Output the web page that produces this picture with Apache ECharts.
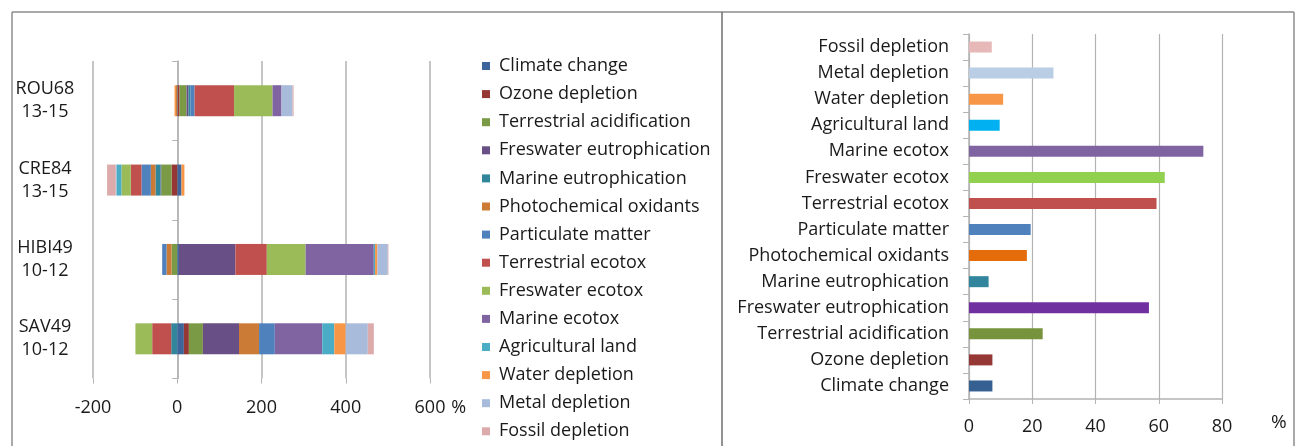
<!DOCTYPE html>
<html lang="en">
<head>
    <meta charset="UTF-8">
    <title>Impact categories</title>
    <script src="https://cdn.jsdelivr.net/npm/echarts@6/dist/echarts.min.js"></script>
</head>
<body style="margin:0;">
<div id="chart" style="width:1300px;height:446px;"></div>
<style>
    * {
        padding: 0;
        margin: 0;
    }
</style>
<script>
    // sites, top to bottom
    var sites = ['ROU68\n13-15', 'CRE84\n13-15', 'HIBI49\n10-12', 'SAV49\n10-12'];
    var impacts = ['Climate change', 'Ozone depletion', 'Terrestrial acidification', 'Freswater eutrophication',
        'Marine eutrophication', 'Photochemical oxidants', 'Particulate matter', 'Terrestrial ecotox',
        'Freswater ecotox', 'Marine ecotox', 'Agricultural land', 'Water depletion', 'Metal depletion', 'Fossil depletion'];

    // % per site [ROU68, CRE84, HIBI49, SAV49]
    var climateChange = [1.4, 10, 4, 15.7];
    var ozoneDepletion = [4, -13.5, 0, 11.9];
    var terrAcid = [16.7, -24.6, -13.5, 33.3];
    var fwEutro = [4.8, -1.6, 134, 85.7];
    var marineEutro = [4.8, -11.9, 0, -14.3];
    var photochem = [-3, -11.1, -12, 47.6];
    var particulate = [9.5, -22.2, -10.3, 37.4];
    var terrEcotox = [93.6, -25.4, 74.6, -45.2];
    var fwEcotox = [91.4, -22.2, 92, -39.8];
    var marineEcotox = [21.4, 0, 162, 112.6];
    var agriLand = [0, -11.9, 3, 28.6];
    var waterDepl = [-3.4, 7, 5.6, 27.1];
    var metalDepl = [26.2, -1.6, 24.6, 52.4];
    var fossilDepl = [2.4, -20.6, 1.6, 14.3];
    var siteValues = [climateChange, ozoneDepletion, terrAcid, fwEutro, marineEutro, photochem, particulate,
        terrEcotox, fwEcotox, marineEcotox, agriLand, waterDepl, metalDepl, fossilDepl];

    // right chart, % per impact (same order as impacts, drawn bottom to top)
    var impactShare = [7.4, 7.4, 23.3, 56.9, 6.2, 18.3, 19.5, 59.3, 61.9, 74.1, 9.7, 10.8, 26.7, 7.2];

    var leftColors = ['#3e659b', '#953735', '#7a9a45', '#684f86', '#31869b', '#cc7b37', '#4f81bd',
        '#c0504d', '#9bbb59', '#8064a2', '#4bacc6', '#f79646', '#a9bbdb', '#ddaaab'];
    var rightColors = ['#376092', '#953735', '#77933c', '#7030a0', '#31859c', '#e46c0a', '#4f81bd',
        '#c0504d', '#92d050', '#8064a2', '#00b0f0', '#f79646', '#b9cde5', '#e6b9b8'];

    var font = 'Open Sans';
    var txt = '#1a1a1a';
    var gridColor = '#b3b3b3';

    var series = impacts.map(function (name, i) {
        return {
            name: name,
            type: 'bar',
            stack: 'sites',
            xAxisIndex: 0,
            yAxisIndex: 0,
            barWidth: 31,
            itemStyle: {color: leftColors[i]},
            data: siteValues[i]
        };
    });
    series.push({
        name: 'share',
        type: 'bar',
        xAxisIndex: 1,
        yAxisIndex: 1,
        barWidth: 11,
        data: impactShare.map(function (v, i) {
            return {value: v, itemStyle: {color: rightColors[i]}};
        })
    });

    var chart = echarts.init(document.getElementById('chart'));
    var option = {
        animation: false,
        textStyle: {fontFamily: font},
        legend: {
            data: impacts,
            orient: 'vertical',
            left: 482,
            top: 57,
            bottom: 0,
            icon: 'rect',
            itemWidth: 8,
            itemHeight: 8,
            itemGap: 10.1,
            padding: 0,
            textStyle: {fontFamily: font, fontSize: 18, color: txt, lineHeight: 18, padding: [0, 0, 0, 4]}
        },
        grid: [
            {left: 93, top: 61, width: 337, height: 317.5},
            {left: 969, top: 34, width: 253, height: 365}
        ],
        xAxis: [{
            gridIndex: 0,
            type: 'value',
            min: -200,
            max: 600,
            interval: 200,
            name: '%',
            nameLocation: 'end',
            nameGap: 14,
            nameTextStyle: {fontFamily: font, fontSize: 18, color: txt, verticalAlign: 'top', padding: [20, 0, 0, 0]},
            axisLine: {show: false},
            axisTick: {show: true, length: 5, lineStyle: {color: gridColor}},
            axisLabel: {fontSize: 18, color: txt, margin: 20},
            splitLine: {show: true, lineStyle: {color: gridColor, width: 1.5}}
        }, {
            gridIndex: 1,
            type: 'value',
            min: 0,
            max: 80,
            interval: 20,
            name: '%',
            nameLocation: 'end',
            nameGap: 49,
            nameTextStyle: {fontFamily: font, fontSize: 19, color: txt, verticalAlign: 'top', padding: [14, 0, 0, 0]},
            axisLine: {show: true, lineStyle: {color: gridColor, width: 1.5}},
            axisTick: {show: true, length: 5, lineStyle: {color: gridColor}},
            axisLabel: {fontSize: 18, color: txt, margin: 19},
            splitLine: {show: true, lineStyle: {color: gridColor, width: 1.2}}
        }],
        yAxis: [{
            gridIndex: 0,
            type: 'category',
            inverse: true,
            data: sites,
            axisLine: {show: true, lineStyle: {color: gridColor, width: 1.5}},
            axisTick: {show: true, length: 5, lineStyle: {color: gridColor}},
            axisLabel: {fontSize: 18, color: txt, align: 'center', margin: 48, lineHeight: 23}
        }, {
            gridIndex: 1,
            type: 'category',
            data: impacts,
            axisLine: {show: true, lineStyle: {color: gridColor, width: 1.5}},
            axisTick: {show: true, length: 6, lineStyle: {color: gridColor}},
            axisLabel: {fontSize: 18, color: txt, margin: 20}
        }],
        graphic: [
            {type: 'line', shape: {x1: 12, y1: 12, x2: 1294, y2: 12}, style: {stroke: '#8c8c8c', lineWidth: 1.5}},
            {type: 'line', shape: {x1: 12, y1: 12, x2: 12, y2: 446}, style: {stroke: '#8c8c8c', lineWidth: 1.5}},
            {type: 'line', shape: {x1: 722, y1: 12, x2: 722, y2: 446}, style: {stroke: '#6e6e6e', lineWidth: 1.5}},
            {type: 'line', shape: {x1: 1294, y1: 12, x2: 1294, y2: 446}, style: {stroke: '#8c8c8c', lineWidth: 1.5}}
        ],
        series: series
    };
    chart.setOption(option);
</script>
</body>
</html>
